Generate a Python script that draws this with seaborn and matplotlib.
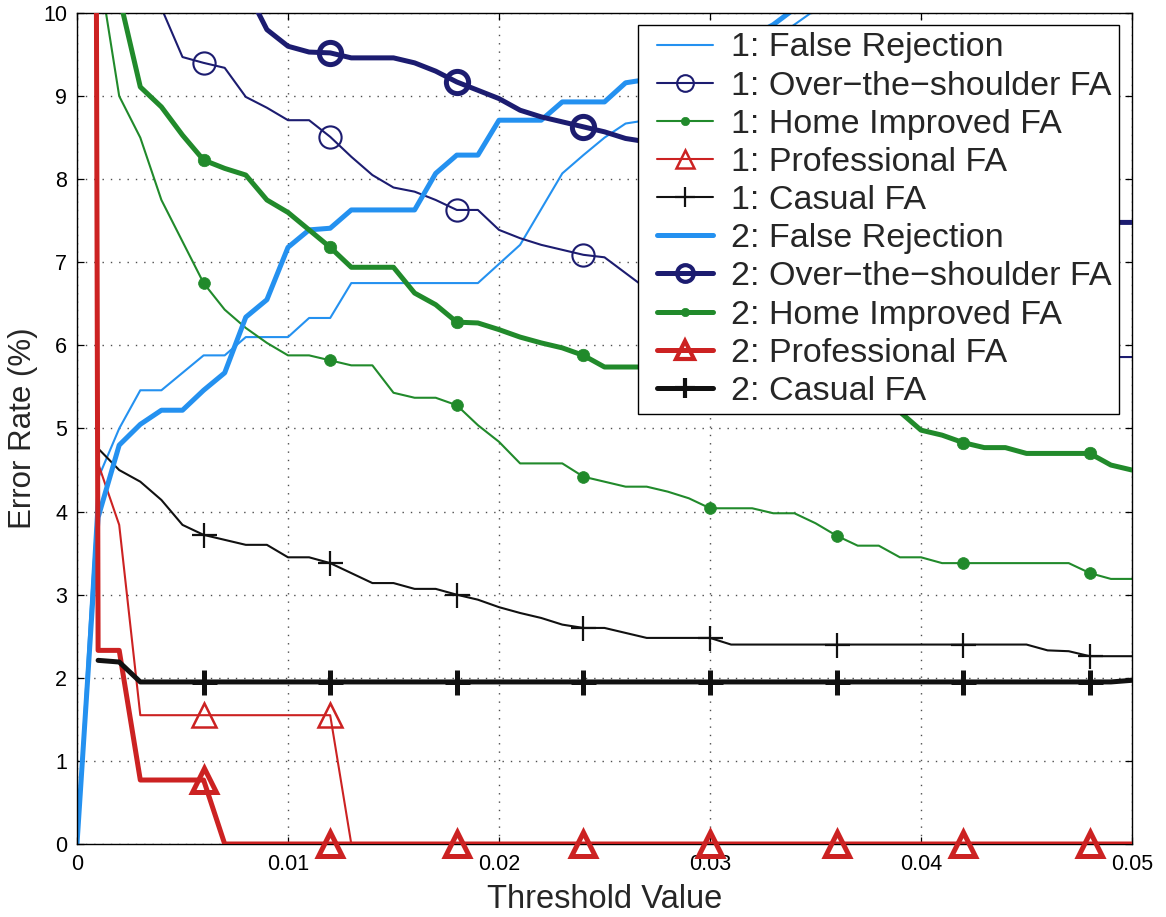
import numpy as np
import pandas as pd
import matplotlib
matplotlib.use("Agg")
import matplotlib.pyplot as plt
from matplotlib.lines import Line2D
from matplotlib.legend_handler import HandlerLine2D
import seaborn as sns

# ---- data: error rates (%) sampled every 0.001 of the threshold ----
threshold = np.round(np.arange(51) * 0.001, 3)

fr_1 = [0, 4.4, 5.0, 5.46, 5.46, 5.67, 5.88, 5.88, 6.1, 6.1,
        6.1, 6.33, 6.33, 6.75, 6.75, 6.75, 6.75, 6.75, 6.75, 6.75,
        6.98, 7.21, 7.64, 8.07, 8.29, 8.5, 8.67, 8.71, 8.85, 9.0,
        9.15, 9.3, 9.5, 9.68, 9.86, 10.04, 10.2, 10.35, 10.5, 10.65,
        10.8, 10.95, 11.1, 11.25, 11.4, 11.55, 11.7, 11.85, 12.0, 12.15, 12.3]
ots_1 = [100, 40, 20, 12, 10.06, 9.47, 9.40, 9.34, 8.99, 8.86,
         8.71, 8.71, 8.51, 8.27, 8.05, 7.9, 7.85, 7.75, 7.63, 7.63,
         7.39, 7.29, 7.21, 7.15, 7.09, 7.06, 6.87, 6.68, 6.58, 6.5,
         6.45, 6.4, 6.35, 6.3, 6.25, 6.2, 6.15, 6.1, 6.08, 6.05,
         6.02, 6.0, 5.97, 5.95, 5.93, 5.91, 5.89, 5.87, 5.86, 5.86, 5.86]
hi_1 = [100, 10.6, 9.0, 8.5, 7.75, 7.25, 6.75, 6.43, 6.21, 6.03,
        5.88, 5.88, 5.82, 5.76, 5.76, 5.43, 5.37, 5.37, 5.28, 5.04,
        4.84, 4.58, 4.58, 4.58, 4.42, 4.36, 4.3, 4.3, 4.24, 4.16,
        4.04, 4.04, 4.04, 3.98, 3.98, 3.86, 3.71, 3.59, 3.59, 3.45,
        3.45, 3.38, 3.38, 3.38, 3.38, 3.38, 3.38, 3.38, 3.26, 3.19, 3.19]
pro_1 = [100, 4.58, 3.84, 1.55, 1.55, 1.55, 1.55, 1.55, 1.55, 1.55,
         1.55, 1.55, 1.55, 0, 0, 0, 0, 0, 0, 0,
         0, 0, 0, 0, 0, 0, 0, 0, 0, 0,
         0, 0, 0, 0, 0, 0, 0, 0, 0, 0,
         0, 0, 0, 0, 0, 0, 0, 0, 0, 0, 0]
cas_1 = [np.nan, 4.76, 4.5, 4.36, 4.14, 3.84, 3.72, 3.66, 3.6, 3.6,
         3.45, 3.45, 3.38, 3.26, 3.14, 3.14, 3.07, 3.07, 3.0, 2.94,
         2.85, 2.78, 2.72, 2.64, 2.6, 2.6, 2.54, 2.48, 2.48, 2.48,
         2.48, 2.4, 2.4, 2.4, 2.4, 2.4, 2.4, 2.4, 2.4, 2.4,
         2.4, 2.4, 2.4, 2.4, 2.4, 2.4, 2.33, 2.32, 2.26, 2.26, 2.26]

fr_2 = [0, 3.93, 4.8, 5.05, 5.22, 5.22, 5.46, 5.67, 6.34, 6.55,
        7.18, 7.39, 7.41, 7.63, 7.63, 7.63, 7.63, 8.07, 8.29, 8.29,
        8.71, 8.71, 8.71, 8.93, 8.93, 8.93, 9.16, 9.2, 9.3, 9.4,
        9.5, 9.6, 9.72, 9.86, 10.05, 10.3, 10.5, 10.7, 10.9, 11.1,
        11.3, 11.5, 11.7, 11.9, 12.1, 12.3, 12.5, 12.7, 12.9, 13.1, 13.3]
ots_2 = [100, 40, 22, 16, 13.5, 12, 11.2, 10.8, 10.3, 9.8,
         9.6, 9.53, 9.52, 9.46, 9.46, 9.46, 9.40, 9.3, 9.17, 9.07,
         8.97, 8.83, 8.75, 8.69, 8.63, 8.57, 8.49, 8.45, 8.4, 8.35,
         8.3, 8.25, 8.2, 8.15, 8.1, 8.05, 8.0, 7.95, 7.9, 7.85,
         7.8, 7.75, 7.7, 7.65, 7.6, 7.57, 7.54, 7.52, 7.5, 7.48, 7.48]
hi_2 = [100, 25, 10.2, 9.11, 8.87, 8.53, 8.23, 8.13, 8.05, 7.75,
        7.6, 7.39, 7.18, 6.94, 6.94, 6.94, 6.63, 6.49, 6.28, 6.27,
        6.19, 6.1, 6.03, 5.97, 5.88, 5.74, 5.74, 5.74, 5.74, 5.7,
        5.65, 5.62, 5.6, 5.56, 5.54, 5.5, 5.48, 5.45, 5.42, 5.2,
        4.98, 4.92, 4.83, 4.77, 4.77, 4.7, 4.7, 4.7, 4.7, 4.56, 4.5]
pro_2 = [100, 2.33, 2.33, 0.77, 0.77, 0.77, 0.77, 0, 0, 0,
         0, 0, 0, 0, 0, 0, 0, 0, 0, 0,
         0, 0, 0, 0, 0, 0, 0, 0, 0, 0,
         0, 0, 0, 0, 0, 0, 0, 0, 0, 0,
         0, 0, 0, 0, 0, 0, 0, 0, 0, 0, 0]
cas_2 = [np.nan, 2.21, 2.19] + [1.95] * 47 + [1.97]

x_ticks = [0, 0.01, 0.02, 0.03, 0.04, 0.05]
x_tick_labels = ["0", "0.01", "0.02", "0.03", "0.04", "0.05"]
y_ticks = list(range(0, 11))

# ---- styling ----
LIGHT_BLUE = "#2491F0"
NAVY = "#1C1C70"
GREEN = "#218A2B"
RED = "#CC2222"
BLACK = "#111111"
THIN, THICK = 1.5, 3.6


class InsetLineHandler(HandlerLine2D):
    """Legend line sample that starts a little to the right of its box."""

    def __init__(self, inset, **kw):
        super().__init__(**kw)
        self.inset = inset

    def create_artists(self, legend, orig_handle, xdescent, ydescent,
                       width, height, fontsize, trans):
        return super().create_artists(legend, orig_handle,
                                      xdescent - self.inset, ydescent,
                                      width - self.inset, height,
                                      fontsize, trans)


sns.set_style("white")
plt.rcParams["font.family"] = ["Liberation Sans", "DejaVu Sans"]

fig = plt.figure(figsize=(11.66, 9.17), dpi=100)
ax = fig.add_axes([77 / 1166, 1 - 844 / 917, 1055 / 1166, 831 / 917])

marker_idx = list(range(6, 51, 6))

# label, values, color, line width, marker, marker size, marker edge width, face
series = [
    ("1: False Rejection", fr_1, LIGHT_BLUE, THIN, None, 0, 0, None),
    ("1: Over\u2212the\u2212shoulder FA", ots_1, NAVY, THIN, "o", 16, 1.5, "none"),
    ("1: Home Improved FA", hi_1, GREEN, THIN, "o", 8.5, 0.5, GREEN),
    ("1: Professional FA", pro_1, RED, THIN, "^", 17, 1.8, "none"),
    ("1: Casual FA", cas_1, BLACK, THIN, "+", 18, 1.6, "none"),
    ("2: False Rejection", fr_2, LIGHT_BLUE, THICK, None, 0, 0, None),
    ("2: Over\u2212the\u2212shoulder FA", ots_2, NAVY, THICK, "o", 16, 3.6, "none"),
    ("2: Home Improved FA", hi_2, GREEN, THICK, "o", 9, 0.5, GREEN),
    ("2: Professional FA", pro_2, RED, THICK, "^", 17, 3.6, "none"),
    ("2: Casual FA", cas_2, BLACK, THICK, "+", 18, 3.6, "none"),
]

legend_handles = []
for i, (label, vals, color, lw, marker, ms, mew, mfc) in enumerate(series):
    df = pd.DataFrame({"threshold": threshold, "rate": vals}).dropna()
    z = 2 + i * 0.1
    sns.lineplot(data=df, x="threshold", y="rate", ax=ax, color=color,
                 linewidth=lw, estimator=None, errorbar=None, zorder=z)
    if marker is not None:
        pts = df[df.index.isin(marker_idx) & (df["rate"] <= 10)]
        sns.lineplot(data=pts, x="threshold", y="rate", ax=ax, color=color,
                     linestyle="", marker=marker, markersize=ms,
                     markeredgewidth=mew, markeredgecolor=color,
                     markerfacecolor=mfc, estimator=None, errorbar=None,
                     clip_on=False, zorder=z + 0.05)
    leg_ms = {"o": 12 if mfc == "none" else 6, "^": 13, "+": 15}.get(marker, 0)
    legend_handles.append(Line2D([], [], color=color, linewidth=lw,
                                 marker=marker if marker else "None",
                                 markersize=leg_ms,
                                 markeredgewidth=min(mew, 3.0) if marker else 0,
                                 markeredgecolor=color,
                                 markerfacecolor=mfc if mfc else color,
                                 label=label))

ax.set_xlim(0, 0.05)
ax.set_ylim(0, 10)
ax.set_xticks(x_ticks)
ax.set_xticklabels(x_tick_labels)
ax.set_yticks(y_ticks)
ax.set_yticklabels([str(v) for v in y_ticks])

ax.grid(True, linestyle=(0, (1, 5)), linewidth=1.0, color="0.3")
ax.set_axisbelow(True)
for sp in ax.spines.values():
    sp.set_visible(True)
    sp.set_color("black")
    sp.set_linewidth(1.0)
ax.tick_params(axis="both", which="both", direction="in", length=5, width=0.9,
               top=True, right=True, bottom=True, left=True,
               labelsize=15.5, colors="black", pad=7)

ax.set_xlabel("Threshold Value", fontsize=23.5, labelpad=7)
ax.set_ylabel("Error Rate (%)", fontsize=22.5, labelpad=4)

inset_handler = InsetLineHandler(inset=8.6)
leg = ax.legend(handles=legend_handles, loc="upper left",
                bbox_to_anchor=(561 / 1055, (844 - 25) / 831),
                borderaxespad=0, fontsize=24.5, frameon=True, fancybox=False,
                framealpha=1, edgecolor="black", handlelength=1.97,
                handletextpad=0.55, labelspacing=0.21, borderpad=0.22,
                numpoints=1,
                handler_map={Line2D: inset_handler})
leg.get_frame().set_linewidth(1.0)
leg.set_zorder(10)

fig.savefig("out.png", dpi=100)
